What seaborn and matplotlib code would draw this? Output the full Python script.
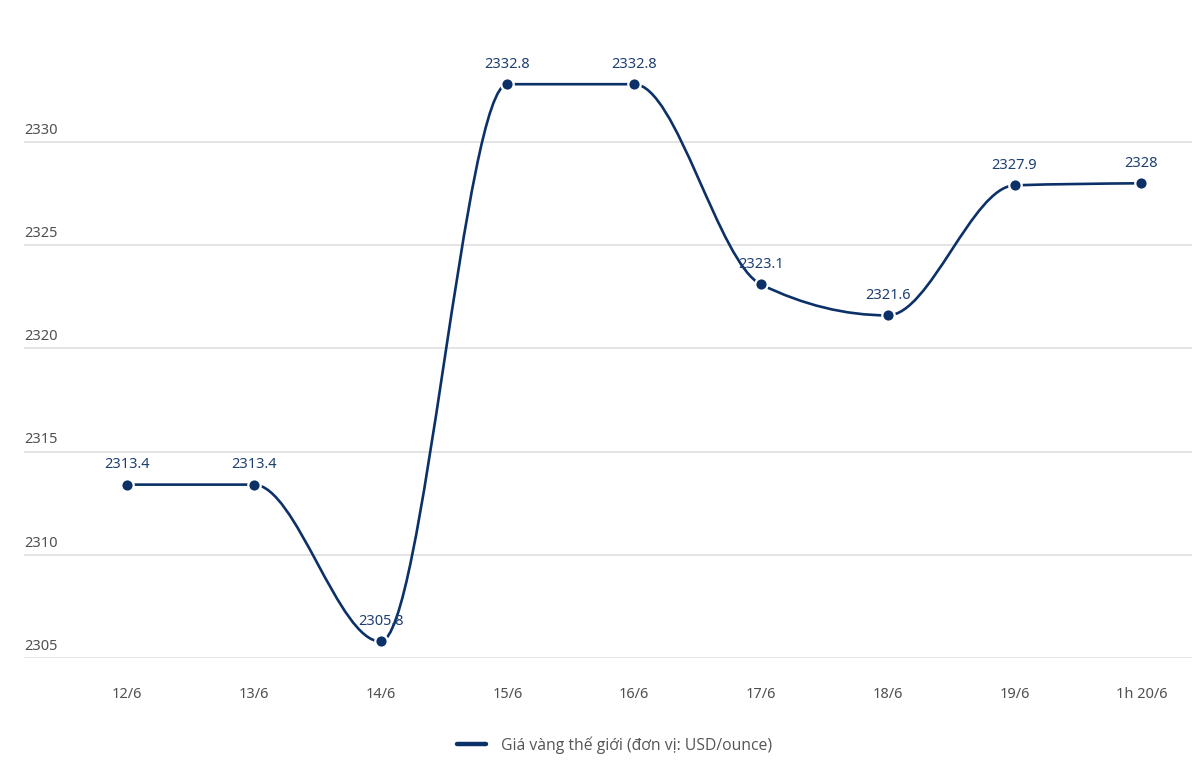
import numpy as np
import matplotlib
matplotlib.use("Agg")
import matplotlib.pyplot as plt
import seaborn as sns
import pandas as pd
from matplotlib.path import Path
from matplotlib.patches import PathPatch
from matplotlib.lines import Line2D
from matplotlib import transforms

# data
days = ["12/6", "13/6", "14/6", "15/6", "16/6", "17/6", "18/6", "19/6", "1h 20/6"]
prices = [2313.4, 2313.4, 2305.8, 2332.8, 2332.8, 2323.1, 2321.6, 2327.9, 2328]
yticks = [2305, 2310, 2315, 2320, 2325, 2330]
series_name = "Giá vàng thế giới (đơn vị: USD/ounce)"

LINE = "#0c3168"
LABEL = "#1e3f72"
TICK = "#505050"


def monotone_path(x, y):
    # same curve as a monotone-x cubic smoothing (bezier segments)
    x = np.asarray(x, float)
    y = np.asarray(y, float)
    n = len(x)
    h = np.diff(x)
    s = np.diff(y) / h
    t = np.zeros(n)
    for i in range(1, n - 1):
        p = (s[i - 1] * h[i] + s[i] * h[i - 1]) / (h[i - 1] + h[i])
        t[i] = (np.sign(s[i - 1]) + np.sign(s[i])) * min(abs(s[i - 1]), abs(s[i]), 0.5 * abs(p))
    t[0] = (3 * s[0] - t[1]) / 2
    t[-1] = (3 * s[-1] - t[-2]) / 2
    verts = [(x[0], y[0])]
    codes = [Path.MOVETO]
    for i in range(n - 1):
        dx = h[i] / 3
        verts += [(x[i] + dx, y[i] + dx * t[i]),
                  (x[i + 1] - dx, y[i + 1] - dx * t[i + 1]),
                  (x[i + 1], y[i + 1])]
        codes += [Path.CURVE4] * 3
    return Path(verts, codes)


sns.set_theme(style="white")
plt.rcParams["font.family"] = ["Noto Sans", "DejaVu Sans"]

df = pd.DataFrame({"pos": np.arange(len(days)), "day": days, "price": prices})

fig = plt.figure(figsize=(11.92, 7.82), dpi=100)
ax = fig.add_axes([24 / 1192, (782 - 658) / 782, 1 - 24 / 1192, (658 - 38.8) / 782])

ax.set_xlim(-0.813, 8.40)
ax.set_ylim(2305, 2335)

for v in yticks:
    ax.axhline(v, color="#dcdcdc", lw=1.1, zorder=0)

curve = PathPatch(monotone_path(df["pos"], df["price"]), facecolor="none",
                  edgecolor=LINE, lw=1.9, capstyle="round", zorder=2)
ax.add_patch(curve)

sns.scatterplot(data=df, x="pos", y="price", ax=ax, s=80, color=LINE,
                edgecolor="white", linewidth=1.6, zorder=3, legend=False)

for _, r in df.iterrows():
    lbl = f"{r.price:g}"
    ax.annotate(lbl, (r.pos, r.price), xytext=(0, 9), textcoords="offset points",
                ha="center", va="bottom", fontsize=10.5, color=LABEL, zorder=4)

# y labels sit above the gridlines at the left edge
trans = transforms.blended_transform_factory(ax.transAxes, ax.transData)
off = transforms.ScaledTranslation(0, 3 / 72, fig.dpi_scale_trans)
for v in yticks:
    ax.text(0, v, str(v), transform=trans + off, ha="left", va="bottom",
            fontsize=10.5, color=TICK)

ax.set_yticks([])
ax.set_xticks(df["pos"])
ax.set_xticklabels(days, fontsize=10.5, color=TICK)
ax.tick_params(axis="x", length=0, pad=21)
ax.set_xlabel("")
ax.set_ylabel("")
sns.despine(ax=ax, left=True, bottom=True)

handle = Line2D([], [], color=LINE, lw=3.2)
fig.legend([handle], [series_name], loc="center", bbox_to_anchor=(615 / 1192, 1 - 745 / 782),
           frameon=False, fontsize=11.3, handlelength=1.8, handletextpad=1.0,
           labelcolor="#555555", prop={"family": ["Open Sans", "DejaVu Sans"], "size": 11.3})

fig.savefig("out.png", dpi=100)
